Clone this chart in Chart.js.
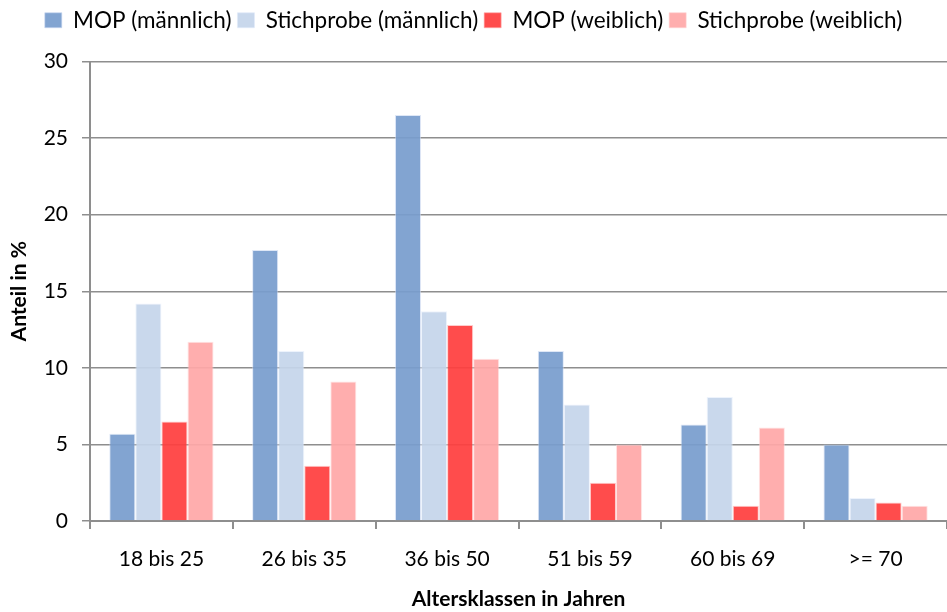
<!DOCTYPE html>
<html>
<head>
<meta charset="utf-8">
<script src="https://cdn.jsdelivr.net/npm/chart.js@4/dist/chart.umd.min.js"></script>
<style>
  html, body { margin: 0; padding: 0; background: #fff; }
  #wrap { width: 947px; height: 612px; position: relative; }
</style>
</head>
<body>
<div id="wrap"><canvas id="c" width="947" height="612"></canvas></div>
<script>
// Altersklassen (Kategorien)
const altersklassen = ['18 bis 25', '26 bis 35', '36 bis 50', '51 bis 59', '60 bis 69', '>= 70'];

// Anteile in % je Gruppe
const mopMaennlich        = [5.7, 17.7, 26.5, 11.1, 6.3, 5.0];
const stichprobeMaennlich = [14.2, 11.1, 13.7, 7.6, 8.1, 1.5];
const mopWeiblich         = [6.5, 3.6, 12.8, 2.5, 1.0, 1.2];
const stichprobeWeiblich  = [11.7, 9.1, 10.6, 5.0, 6.1, 1.0];

const yTicks = [0, 5, 10, 15, 20, 25, 30];

const FONT = 'Lato, "Open Sans", sans-serif';
const gridGrey = '#8e8e8e';

// extra space between the legend row and the plot area
const legendSpacer = {
  id: 'legendSpacer',
  beforeLayout(chart) {
    const lg = chart.legend;
    if (lg && !lg._spaced) {
      const fit = lg.fit;
      lg.fit = function () { fit.call(this); this.height += 20; };
      lg._spaced = true;
    }
  }
};

new Chart(document.getElementById('c'), {
  type: 'bar',
  data: {
    labels: altersklassen,
    datasets: [
      { label: 'MOP (männlich)', data: mopMaennlich, backgroundColor: 'rgba(120,157,205,0.93)', borderColor: 'rgba(200,215,240,0.6)', borderWidth: 1 },
      { label: 'Stichprobe (männlich)', data: stichprobeMaennlich, backgroundColor: 'rgba(197,213,235,0.93)', borderColor: 'rgba(225,235,250,0.6)', borderWidth: 1 },
      { label: 'MOP (weiblich)', data: mopWeiblich, backgroundColor: 'rgba(255,62,62,0.93)', borderColor: 'rgba(255,170,170,0.6)', borderWidth: 1 },
      { label: 'Stichprobe (weiblich)', data: stichprobeWeiblich, backgroundColor: 'rgba(255,168,168,0.93)', borderColor: 'rgba(255,210,210,0.6)', borderWidth: 1 }
    ]
  },
  plugins: [legendSpacer],
  options: {
    responsive: false,
    animation: false,
    layout: { padding: { left: 0, right: 0, top: 3, bottom: 0 } },
    datasets: { bar: { categoryPercentage: 0.73, barPercentage: 1.0 } },
    plugins: {
      legend: {
        position: 'top',
        labels: {
          font: { family: FONT, size: 22.5 },
          color: '#000',
          boxWidth: 17,
          boxHeight: 15,
          padding: 6
        }
      },
      tooltip: { enabled: false }
    },
    scales: {
      x: {
        z: 1,
        afterFit: (s) => { s.height = 91; },
        grid: { display: true, drawOnChartArea: false, drawTicks: true, tickLength: 8, color: gridGrey, lineWidth: 2, offset: true },
        border: { display: true, color: gridGrey, width: 2 },
        ticks: { font: { family: FONT, size: 21 }, color: '#000', padding: 18 },
        title: { display: true, text: 'Altersklassen in Jahren', font: { family: FONT, size: 21, weight: 'bold' }, color: '#000', padding: { top: 0, bottom: 0 } }
      },
      y: {
        z: 1,
        min: 0,
        max: 30,
        afterBuildTicks: (s) => { s.ticks = yTicks.map(v => ({ value: v })); },
        afterFit: (s) => { s.width = 90; },
        grid: { color: gridGrey, lineWidth: 1.5, tickLength: 8 },
        border: { display: true, color: gridGrey, width: 2 },
        ticks: { font: { family: FONT, size: 21 }, color: '#000', padding: 14 },
        title: { display: true, text: 'Anteil in %', font: { family: FONT, size: 21, weight: 'bold' }, color: '#000', padding: { top: 7, bottom: 0 } }
      }
    }
  }
});
</script>
</body>
</html>
